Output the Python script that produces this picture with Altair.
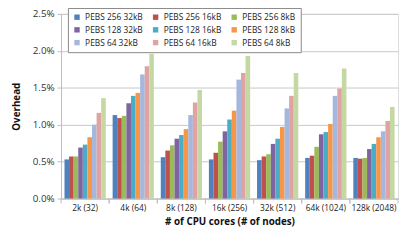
import altair as alt
import pandas as pd

groups = ["2k (32)", "4k (64)", "8k (128)", "16k (256)", "32k (512)", "64k (1024)", "128k (2048)"]
series = ["PEBS 256 32kB", "PEBS 256 16kB", "PEBS 256 8kB",
          "PEBS 128 32kB", "PEBS 128 16kB", "PEBS 128 8kB",
          "PEBS 64 32kB", "PEBS 64 16kB", "PEBS 64 8kB"]
colors = ["#4F81BD", "#C0504D", "#9BBB59", "#8064A2", "#4BACC6", "#F79646",
          "#A5B7DD", "#DEA3A2", "#C5D8A4"]

# overhead in percent, one list per series (values across groups)
v_256_32 = [0.53, 1.13, 0.56, 0.53, 0.52, 0.55, 0.55]
v_256_16 = [0.57, 1.09, 0.65, 0.62, 0.57, 0.58, 0.54]
v_256_8 = [0.57, 1.12, 0.72, 0.77, 0.60, 0.70, 0.55]
v_128_32 = [0.69, 1.29, 0.81, 0.91, 0.74, 0.87, 0.67]
v_128_16 = [0.73, 1.39, 0.86, 1.07, 0.81, 0.90, 0.74]
v_128_8 = [0.83, 1.43, 0.94, 1.19, 0.97, 1.01, 0.83]
v_64_32 = [1.00, 1.68, 1.13, 1.61, 1.22, 1.39, 0.91]
v_64_16 = [1.16, 1.79, 1.30, 1.70, 1.39, 1.49, 1.05]
v_64_8 = [1.36, 1.96, 1.47, 1.93, 1.70, 1.76, 1.24]

all_vals = [v_256_32, v_256_16, v_256_8, v_128_32, v_128_16, v_128_8, v_64_32, v_64_16, v_64_8]

rows = []
for s, vals in zip(series, all_vals):
    for g, v in zip(groups, vals):
        rows.append({"group": g, "series": s, "value": v / 100.0})
df = pd.DataFrame(rows)
gdf = pd.DataFrame({"group": groups})

# legend fills column-first: reorder so rows read like the reference
order = [0, 3, 6, 1, 4, 7, 2, 5, 8]
legend_domain = [series[i] for i in order]
legend_range = [colors[i] for i in order]

W, H = 343, 188
FONT = "Open Sans"

xenc = alt.X("group:N", sort=groups,
             scale=alt.Scale(paddingInner=0, paddingOuter=0),
             axis=alt.Axis(title="# of CPU cores (# of nodes)", ticks=False,
                           labelAngle=0, labelFontSize=8.5, labelColor="#222",
                           labelPadding=5, domainColor="#BDBDBD",
                           titleFontSize=10, titleFontWeight="bold",
                           titlePadding=5, titleColor="#111", grid=False))

bars = alt.Chart(df).mark_bar().encode(
    x=xenc,
    xOffset=alt.XOffset("series:N", sort=series,
                        scale=alt.Scale(paddingInner=0, paddingOuter=0.75)),
    y=alt.Y("value:Q",
            scale=alt.Scale(domain=[0, 0.025]),
            axis=alt.Axis(title="Overhead", format=".1%",
                          values=[0, 0.005, 0.01, 0.015, 0.02, 0.025],
                          labelFontSize=10, labelColor="#333", tickSize=4,
                          tickColor="#BDBDBD", domainColor="#BDBDBD",
                          gridColor="#C8C8C8", labelPadding=3,
                          titleFontSize=10, titleFontWeight="bold",
                          titleColor="#111", titlePadding=11)),
    color=alt.Color("series:N",
                    scale=alt.Scale(domain=legend_domain, range=legend_range),
                    legend=alt.Legend(title=None, orient="none", legendX=7, legendY=-6,
                                      columns=3, symbolType="square", symbolSize=30,
                                      symbolStrokeWidth=0, labelFontSize=8.5,
                                      labelColor="#222", rowPadding=4, columnPadding=8,
                                      padding=5, strokeColor="#888",
                                      fillColor="white", labelLimit=200)),
)

ticks0 = alt.Chart(gdf).mark_rule(color="#BDBDBD").encode(
    x=alt.X("group:N", sort=groups, bandPosition=0),
    y=alt.value(H), y2=alt.value(H + 5))
ticks1 = alt.Chart(gdf).mark_rule(color="#BDBDBD").encode(
    x=alt.X("group:N", sort=groups, bandPosition=1),
    y=alt.value(H), y2=alt.value(H + 5))

chart = alt.layer(bars, ticks0, ticks1).properties(
    width=W, height=H,
    padding={"left": 3, "top": -3, "right": 0, "bottom": 0},
).configure_view(stroke=None).configure(font=FONT, background="white")

chart.save("out.html", embed_options={"renderer": "svg", "actions": False})
